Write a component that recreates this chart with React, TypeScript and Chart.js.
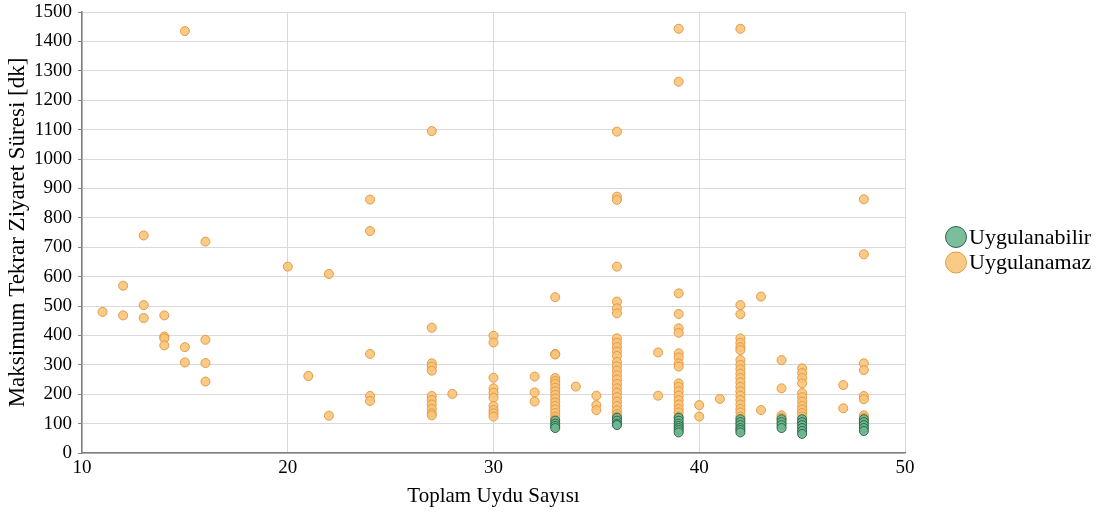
import React, { useEffect, useRef } from "react";
import { Chart, registerables } from "chart.js";

Chart.register(...registerables);

// ---- Data ----
const SERIES_LABELS = ["Uygulanabilir", "Uygulanamaz"];

const FEASIBLE_COUNTS = [33, 36, 39, 42, 44, 45, 48];
const FEASIBLE_VALUES = [
  [110, 100, 92, 85],
  [120, 110, 100, 95],
  [120, 110, 100, 92, 85, 78, 70],
  [115, 105, 95, 85, 78, 70],
  [115, 105, 95, 85],
  [115, 105, 95, 85, 75, 65],
  [115, 105, 95, 85, 75],
];

const INFEASIBLE_COUNTS = [11, 12, 13, 14, 15, 16, 20, 21, 22, 24, 27, 28, 30, 32, 33, 34, 35, 36, 38, 39, 40, 41, 42, 43, 44, 45, 47, 48];
const INFEASIBLE_VALUES = [
  [480],
  [569, 468],
  [740, 503, 459],
  [468, 396, 390, 366],
  [1435, 360, 308],
  [719, 385, 306, 243],
  [634],
  [262],
  [609, 127],
  [862, 755, 337, 194, 177],
  [1095, 426, 305, 294, 280, 194, 180, 165, 150, 135, 128],
  [201],
  [399, 376, 256, 220, 205, 188, 160, 146, 135, 124],
  [260, 206, 175],
  [530, 337, 335, 255, 245, 235, 222, 210, 198, 185, 172, 160, 148, 136, 124, 115],
  [226],
  [195, 163, 146],
  [1093, 872, 861, 634, 515, 492, 475, 390, 375, 360, 345, 330, 310, 295, 280, 265, 250, 235, 220, 205, 190, 175, 160, 145, 132, 124],
  [342, 195],
  [1443, 1263, 543, 473, 424, 409, 339, 325, 305, 294, 237, 225, 210, 195, 180, 165, 150, 138, 124],
  [163, 124],
  [184],
  [1443, 503, 472, 390, 375, 360, 350, 316, 300, 285, 270, 255, 240, 225, 210, 195, 180, 165, 150, 138, 124],
  [532, 146],
  [316, 220, 128, 120],
  [288, 272, 255, 237, 204, 190, 175, 160, 148, 136, 124],
  [231, 152],
  [863, 676, 305, 282, 194, 183, 128, 120],
];

const X_MIN = 10;
const X_MAX = 50;
const X_STEP = 10;
const Y_MIN = 0;
const Y_MAX = 1500;
const Y_STEP = 100;

const X_TITLE = "Toplam Uydu Sayısı";
const Y_TITLE = "Maksimum Tekrar Ziyaret Süresi [dk]";

// ---- Styles ----
const FONT = '"Liberation Serif", "Times New Roman", serif';
const GREEN_FILL = "rgba(110, 182, 145, 0.9)";
const GREEN_BORDER = "#2a6744";
const ORANGE_FILL = "rgba(249, 196, 122, 0.9)";
const ORANGE_BORDER = "#e29a45";

function toPoints(counts: number[], values: number[][]) {
  const pts: { x: number; y: number }[] = [];
  counts.forEach((c, i) => values[i].forEach((v) => pts.push({ x: c, y: v })));
  return pts;
}

const sideLegend = {
  id: "sideLegend",
  afterDraw(chart: any) {
    const ctx = chart.ctx;
    const cx = 956;
    const top = 237;
    const gap = 25.5;
    ctx.save();
    chart.data.datasets.forEach((ds: any, i: number) => {
      const cy = top + i * gap;
      ctx.beginPath();
      ctx.arc(cx, cy, 10.5, 0, Math.PI * 2);
      ctx.fillStyle = ds.backgroundColor;
      ctx.fill();
      ctx.lineWidth = 1;
      ctx.strokeStyle = ds.borderColor;
      ctx.stroke();
      ctx.fillStyle = "#000";
      ctx.font = `22px ${FONT}`;
      ctx.textAlign = "left";
      ctx.textBaseline = "middle";
      ctx.fillText(ds.label, cx + 13, cy + 1);
    });
    ctx.restore();
  },
};

export default function App() {
  const canvasRef = useRef<HTMLCanvasElement | null>(null);

  useEffect(() => {
    if (!canvasRef.current) return;
    const chart = new Chart(canvasRef.current, {
      type: "scatter",
      data: {
        datasets: [
          {
            label: SERIES_LABELS[0],
            data: toPoints(FEASIBLE_COUNTS, FEASIBLE_VALUES),
            backgroundColor: GREEN_FILL,
            borderColor: GREEN_BORDER,
            borderWidth: 1,
            pointRadius: 4.5,
          },
          {
            label: SERIES_LABELS[1],
            data: toPoints(INFEASIBLE_COUNTS, INFEASIBLE_VALUES),
            backgroundColor: ORANGE_FILL,
            borderColor: ORANGE_BORDER,
            borderWidth: 1,
            pointRadius: 4.5,
          },
        ],
      },
      options: {
        animation: false,
        responsive: true,
        maintainAspectRatio: false,
        layout: { padding: { left: 0, right: 192, top: 12, bottom: 0 } },
        plugins: {
          legend: { display: false },
          tooltip: { enabled: false },
        },
        scales: {
          x: {
            type: "linear",
            min: X_MIN,
            max: X_MAX,
            ticks: { stepSize: X_STEP, color: "#000", font: { family: FONT, size: 19 }, padding: 4, maxRotation: 0 },
            grid: { color: "#d9d9d9", drawTicks: false },
            border: { color: "#808080", width: 1.5 },
            title: { display: true, text: X_TITLE, color: "#000", font: { family: FONT, size: 21 }, padding: { top: 4, bottom: 7 } },
            afterFit: (scale: any) => {
              scale.height = 63;
              scale.paddingRight = 0;
            },
          },
          y: {
            type: "linear",
            min: Y_MIN,
            max: Y_MAX,
            ticks: {
              stepSize: Y_STEP,
              color: "#000",
              font: { family: FONT, size: 19 },
              padding: 6,
              callback: (v: any) => String(v),
            },
            grid: { color: "#d9d9d9", drawTicks: true, tickLength: 4, tickColor: "#808080" },
            border: { color: "#808080", width: 1.5 },
            title: { display: true, text: Y_TITLE, color: "#000", font: { family: FONT, size: 23 }, padding: { top: 4, bottom: 4 } },
            afterFit: (scale: any) => {
              scale.width = 82;
              scale.paddingTop = 0;
              scale.paddingBottom = 0;
            },
          },
        },
      },
      plugins: [sideLegend],
    });
    return () => chart.destroy();
  }, []);

  return (
    <div style={{ position: "fixed", left: 0, top: 0, width: 1097, height: 516, background: "#fff" }}>
      <canvas ref={canvasRef} />
    </div>
  );
}
